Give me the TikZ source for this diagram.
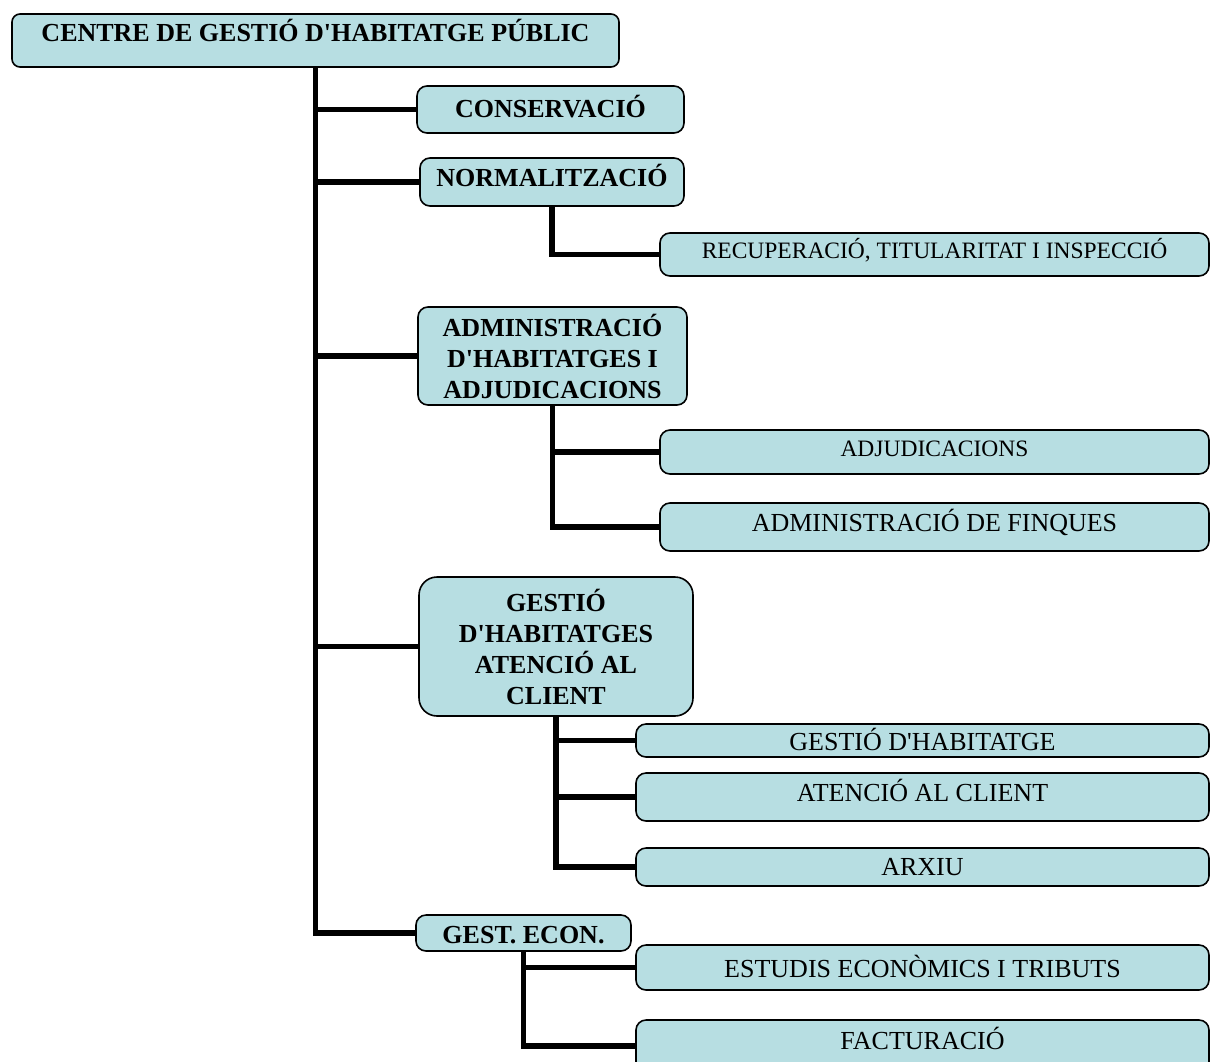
\documentclass[tikz,border=0pt]{standalone}
\usepackage{fontspec}
\newfontfamily\lib{Liberation Serif}
\definecolor{boxfill}{RGB}{183,222,226}
\begin{document}
\begin{tikzpicture}[x=1pt,y=-1pt,
  box/.style={draw,line width=1.6pt,rounded corners=10pt,fill=boxfill,inner sep=0pt,align=center,
    font=\lib\fontsize{26}{31}\selectfont},
  bbox/.style={box,font=\lib\bfseries\fontsize{26}{31}\selectfont},
  one/.style={text height=16pt,text depth=8pt},
  mid/.style={text height=19pt,text depth=3pt},
  low/.style={text height=22pt,text depth=2pt},
  small/.style={font=\lib\fontsize{23.5}{28}\selectfont},
  conn/.style={line width=5.5pt,draw=black,line join=miter}]
\useasboundingbox (0,0) rectangle (1210,1061);
\clip (0,0) rectangle (1210,1061);
% level 1
\node[bbox,rounded corners=8pt,minimum width=607pt,minimum height=53pt,text height=10pt,text depth=9pt] (root) at (315.5,40.5) {CENTRE DE GESTIÓ D'HABITATGE PÚBLIC};
% level 2
\node[bbox,mid,minimum width=267pt,minimum height=47pt] (cons) at (550.5,109.5) {CONSERVACIÓ};
\node[bbox,one,minimum width=264pt,minimum height=48pt] (norm) at (552,182) {NORMALITZACIÓ};
\node[bbox,minimum width=269pt,minimum height=98pt] (admin) at (552.5,356) {ADMINISTRACIÓ\\D'HABITATGES I\\ADJUDICACIONS};
\node[bbox,rounded corners=18pt,minimum width=274pt,minimum height=139pt] (gest) at (556,646.5) {GESTIÓ\\D'HABITATGES\\ATENCIÓ AL\\CLIENT};
\node[bbox,low,minimum width=215pt,minimum height=36pt] (gecon) at (523.5,933) {GEST. ECON.};
% level 3
\node[box,small,one,minimum width=549pt,minimum height=43pt] (recup) at (934.5,254.5) {RECUPERACIÓ, TITULARITAT I INSPECCIÓ};
\node[box,small,one,minimum width=549pt,minimum height=44pt] (adj) at (934.5,452) {ADJUDICACIONS};
\node[box,one,minimum width=549pt,minimum height=48pt] (finq) at (934.5,527) {ADMINISTRACIÓ DE FINQUES};
\node[box,low,minimum width=573pt,minimum height=33pt] (gh) at (922.5,740.5) {GESTIÓ D'HABITATGE};
\node[box,one,minimum width=573pt,minimum height=48pt] (aten) at (922.5,797) {ATENCIÓ AL CLIENT};
\node[box,mid,minimum width=573pt,minimum height=38pt] (arxiu) at (922.5,867) {ARXIU};
\node[box,low,minimum width=573pt,minimum height=45pt] (estud) at (922.5,967.5) {ESTUDIS ECONÒMICS I TRIBUTS};
\node[box,minimum width=573pt,minimum height=52pt,text height=18pt,text depth=12pt] (fact) at (922.5,1046) {FACTURACIÓ};
% connectors
\draw[conn] (root.south) |- (cons.west);
\draw[conn] (root.south) |- (norm.west);
\draw[conn] (root.south) |- (admin.west);
\draw[conn] (root.south) |- (gest.west);
\draw[conn] (root.south) |- (gecon.west);
\draw[conn] (norm.south) |- (recup.west);
\draw[conn] (admin.south) |- (adj.west);
\draw[conn] (admin.south) |- (finq.west);
\draw[conn] (gest.south) |- (gh.west);
\draw[conn] (gest.south) |- (aten.west);
\draw[conn] (gest.south) |- (arxiu.west);
\draw[conn] (gecon.south) |- (estud.west);
\draw[conn] (gecon.south) |- (fact.west);
\end{tikzpicture}
\end{document}
